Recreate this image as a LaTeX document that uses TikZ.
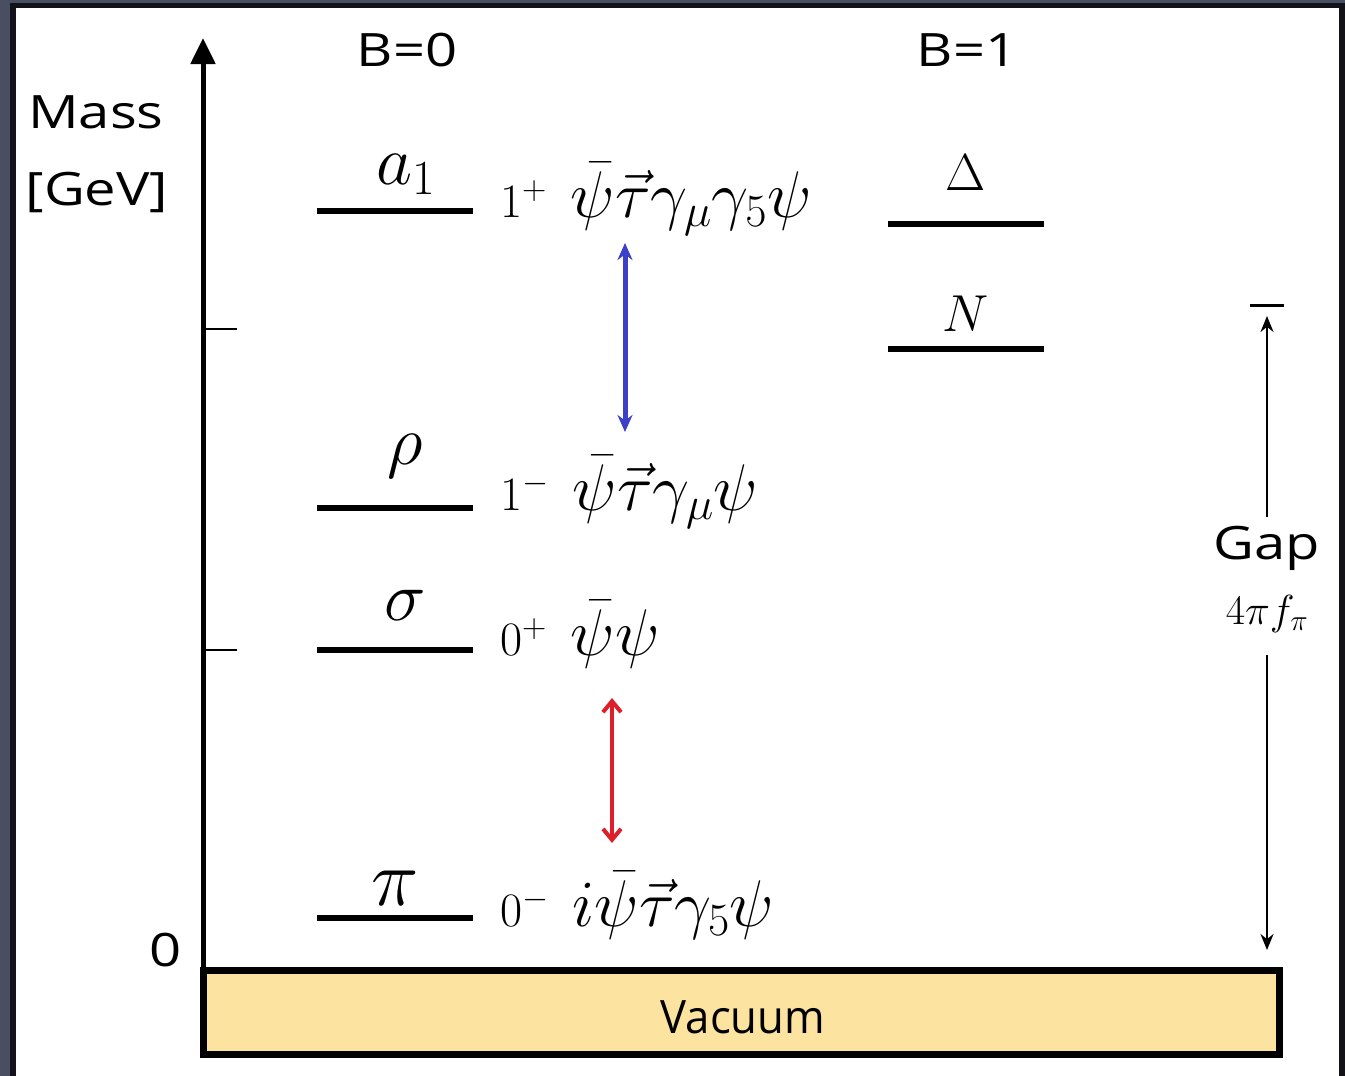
\RequirePackage{fix-cm}
\documentclass[tikz,border=0pt]{standalone}
\usepackage{fontspec}
\usepackage{graphicx}
\usetikzlibrary{arrows.meta}
\newfontfamily\comicfont{Open Sans}
\definecolor{bgout}{RGB}{74,78,99}
\definecolor{framecol}{RGB}{18,18,24}
\definecolor{vaccol}{RGB}{253,227,160}
\definecolor{myblue}{RGB}{60,64,200}
\definecolor{myred}{RGB}{222,30,40}
\newcommand\hstr[1]{\scalebox{1.22}[1]{#1}}
\newcommand\jp[2]{{\fontsize{48}{54}\selectfont$#1$}\hspace{24pt}{\fontsize{66}{72}\selectfont$#2$}}
\tikzset{
  sanslbl/.style={font=\comicfont\fontsize{46}{50}\selectfont, inner sep=0pt},
  biglbl/.style={font=\fontsize{70}{76}\selectfont, inner sep=0pt, anchor=base},
  baryonlbl/.style={font=\fontsize{52}{58}\selectfont, inner sep=0pt, anchor=base},
  formula/.style={inner sep=0pt, anchor=base west},
  smallmath/.style={font=\fontsize{42}{46}\selectfont, inner sep=0pt, anchor=base},
  levelline/.style={line width=6pt},
  tickline/.style={line width=2pt},
  gaparrow/.style={line width=2.5pt, -{Stealth[length=16pt,width=13pt]}},
}
\begin{document}
\begin{tikzpicture}[x=1pt,y=-1pt]
\useasboundingbox (0,0) rectangle (1345,1076);
% frame
\fill[bgout] (0,0) rectangle (1345,1076);
\fill[framecol] (10,3) rectangle (1345,1076);
\fill[white] (16,8) rectangle (1339,1076);

% vacuum box
\node[draw, line width=7pt, fill=vaccol, minimum width=1076pt, minimum height=84pt, inner sep=0pt] (vacuum) at (741.5,1012.5) {};
\node[sanslbl] (vactxt) at (743,1017) {\scalebox{0.95}[1]{Vacuum}};

% axis
\coordinate (axbot) at (203,967);
\coordinate (axtop) at (203,38);
\draw[line width=5pt, -{Triangle[length=26pt,width=24pt]}] (axbot) -- (axtop);
\coordinate (t1a) at (203,329); \coordinate (t1b) at (237,329);
\coordinate (t2a) at (203,650); \coordinate (t2b) at (237,650);
\draw[tickline] (t1a) -- (t1b);
\draw[tickline] (t2a) -- (t2b);

\node[sanslbl] (mass) at (96,112) {\hstr{Mass}};
\node[sanslbl] (gev) at (97,192) {\hstr{[GeV]}};
\node[sanslbl] (zero) at (166,950) {\hstr{0}};
\node[sanslbl] (b0) at (407,50) {\hstr{B=0}};
\node[sanslbl] (b1) at (967,50) {\hstr{B=1}};

% B=0 levels
\coordinate (a1l) at (317,211); \coordinate (a1r) at (473,211);
\coordinate (rhol) at (317,508); \coordinate (rhor) at (473,508);
\coordinate (sigl) at (317,650); \coordinate (sigr) at (473,650);
\coordinate (pil) at (317,918); \coordinate (pir) at (473,918);
\draw[levelline] (a1l) -- (a1r);
\draw[levelline] (rhol) -- (rhor);
\draw[levelline] (sigl) -- (sigr);
\draw[levelline] (pil) -- (pir);
\node[biglbl] (a1lbl) at (406,184) {$a_1$};
\node[biglbl] (rholbl) at (405,464) {$\rho$};
\node[biglbl] (siglbl) at (405,620) {$\sigma$};
\node[biglbl, font=\fontsize{80}{86}\selectfont] (pilbl) at (395,905) {$\pi$};

% B=1 levels
\coordinate (dell) at (888,224); \coordinate (delr) at (1044,224);
\coordinate (nl) at (888,349); \coordinate (nr) at (1044,349);
\draw[levelline] (dell) -- (delr);
\draw[levelline] (nl) -- (nr);
\node[baryonlbl] (dellbl) at (966,190) {$\Delta$};
\node[baryonlbl] (nlbl) at (966,331) {$N$};

% formulas
\node[formula] (fa1) at (500,217) {\jp{1^+}{\bar\psi\vec\tau\gamma_\mu\gamma_5\psi}};
\node[formula] (frho) at (500,510) {\jp{1^-}{\bar\psi\vec\tau\gamma_\mu\psi}};
\node[formula] (fsig) at (500,655) {\jp{0^+}{\bar\psi\psi}};
\node[formula] (fpi) at (500,926) {\jp{0^-}{i\bar\psi\vec\tau\gamma_5\psi}};

% blue and red arrows
\coordinate (bluetop) at (625,243); \coordinate (bluebot) at (625,432);
\draw[myblue, line width=5pt, {Stealth[length=17pt,width=15pt]}-{Stealth[length=17pt,width=15pt]}] (bluetop) -- (bluebot);
\coordinate (redtop) at (612,698); \coordinate (redbot) at (612,843);
\draw[myred, line width=4pt, {Straight Barb[length=11pt,width=18pt]}-{Straight Barb[length=11pt,width=18pt]}] (redtop) -- (redbot);

% gap
\coordinate (gtl) at (1250,305); \coordinate (gtr) at (1284,305);
\draw[line width=3pt] (gtl) -- (gtr);
\node[sanslbl] (gaptxt) at (1267,548) {\hstr{Gap}};
\node[smallmath] (gapf) at (1267,624) {$4\pi f_\pi$};
\coordinate (gaptop) at (1267,316);
\coordinate (gapbot) at (1267,950);
\coordinate (gapup) at (1267,517);
\coordinate (gapdown) at (1267,655);
\draw[gaparrow] (gapup) -- (gaptop);
\draw[gaparrow] (gapdown) -- (gapbot);
\end{tikzpicture}
\end{document}
